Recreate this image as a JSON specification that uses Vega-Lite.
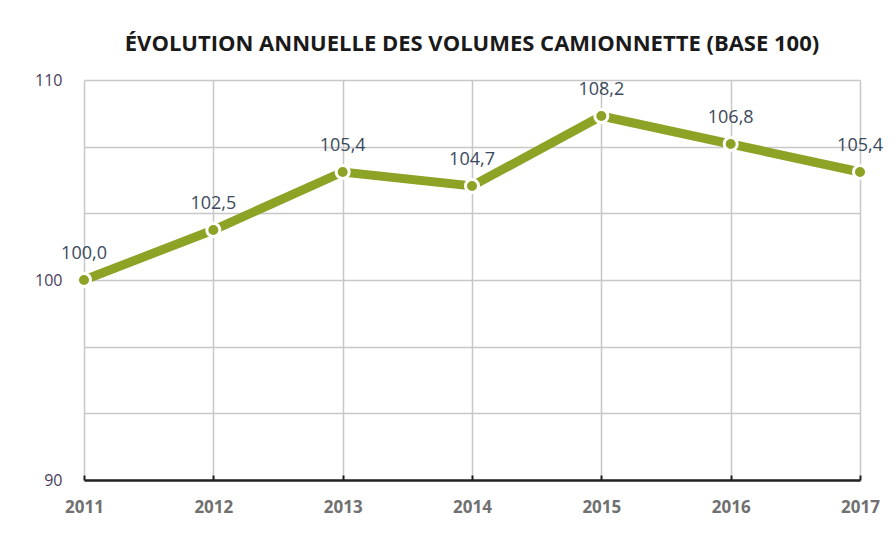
{
  "$schema": "https://vega.github.io/schema/vega-lite/v6.json",
  "width": 776,
  "height": 400,
  "autosize": {"type": "none"},
  "padding": {"left": 84, "top": 80, "right": 36, "bottom": 57},
  "background": "white",
  "config": {
    "view": {"stroke": null},
    "locale": {"number": {"decimal": ",", "thousands": " ", "grouping": [3], "currency": ["", " €"]}},
    "font": "Open Sans"
  },
  "title": {
    "text": "ÉVOLUTION ANNUELLE DES VOLUMES CAMIONNETTE (BASE 100)",
    "fontSize": 22,
    "fontWeight": "bold",
    "color": "#1a1a1a",
    "anchor": "middle",
    "offset": 16,
    "font": "Open Sans"
  },
  "data": {
    "values": [
      {"year": 2011, "value": 100.0},
      {"year": 2012, "value": 102.5},
      {"year": 2013, "value": 105.4},
      {"year": 2014, "value": 104.7},
      {"year": 2015, "value": 108.2},
      {"year": 2016, "value": 106.8},
      {"year": 2017, "value": 105.4}
    ]
  },
  "encoding": {
    "x": {
      "field": "year",
      "type": "quantitative",
      "scale": {"domain": [2011, 2017], "nice": false, "zero": false},
      "axis": {
        "title": null,
        "values": [2011, 2012, 2013, 2014, 2015, 2016, 2017],
        "format": "d",
        "labelFlush": false,
        "grid": true,
        "gridColor": "#c8c8c8",
        "gridWidth": 1.5,
        "domainColor": "#222222",
        "domainWidth": 2.5,
        "tickColor": "#222222",
        "tickSize": -5,
        "tickWidth": 2,
        "labelPadding": 24,
        "labelFontSize": 17,
        "labelFontWeight": "bold",
        "labelColor": "#707070",
        "labelFont": "Open Sans"
      }
    },
    "y": {
      "field": "value",
      "type": "quantitative",
      "scale": {"domain": [90, 110], "nice": false, "zero": false},
      "axis": {
        "title": null,
        "values": [90, 93.3333, 96.6667, 100, 103.3333, 106.6667, 110],
        "labelExpr": "datum.value == 90 || datum.value == 100 || datum.value == 110 ? format(datum.value, 'd') : ''",
        "grid": true,
        "gridColor": "#c8c8c8",
        "gridWidth": 1.5,
        "domain": false,
        "ticks": false,
        "labelPadding": 22,
        "labelFontSize": 16,
        "labelColor": "#4a3d5c",
        "labelFont": "Open Sans"
      }
    }
  },
  "layer": [
    {
      "mark": {"type": "line", "color": "#8da326", "strokeWidth": 9}
    },
    {
      "mark": {"type": "point", "filled": true, "fill": "#8da326", "stroke": "white", "strokeWidth": 3, "size": 170, "opacity": 1}
    },
    {
      "mark": {"type": "text", "dy": -26, "fontSize": 18, "color": "#3b4a5c", "font": "Open Sans"},
      "encoding": {"text": {"field": "value", "type": "quantitative", "format": ".1f"}}
    }
  ]
}
